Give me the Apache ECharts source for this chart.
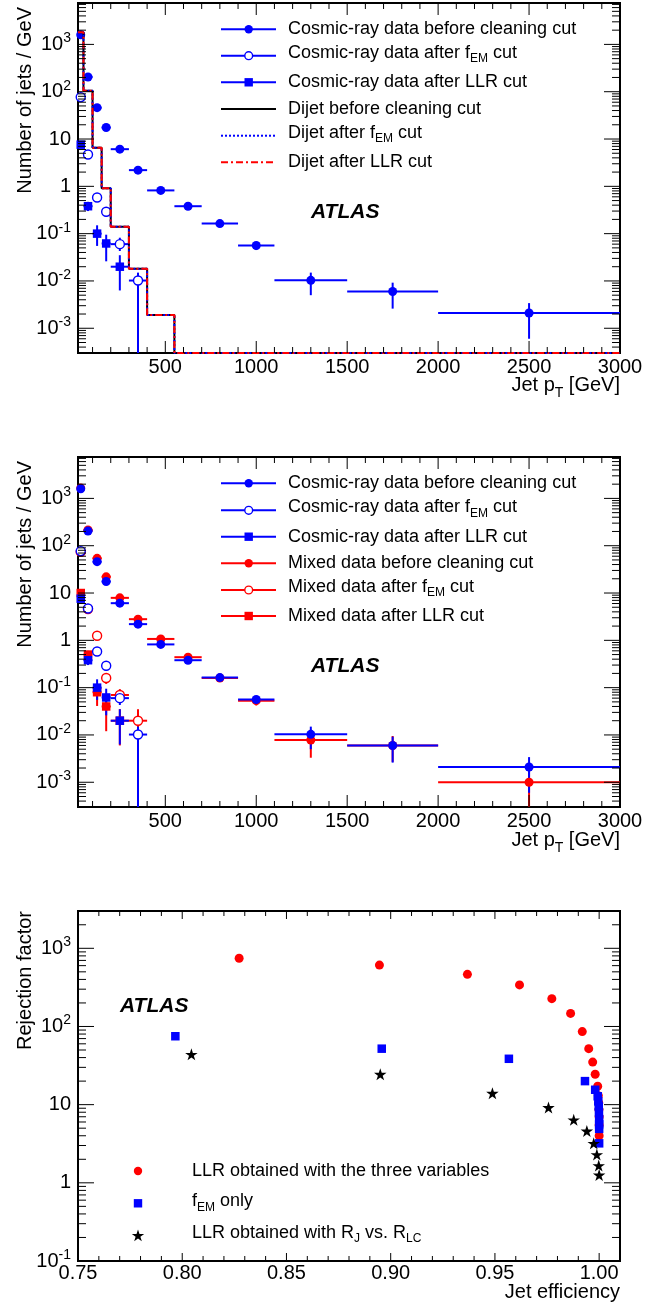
<!DOCTYPE html>
<html><head><meta charset="utf-8">
<script src="https://cdn.jsdelivr.net/npm/echarts@6/dist/echarts.min.js"></script>
<style>html,body{margin:0;padding:0;background:#fff}#c{width:671px;height:1308px}</style>
</head><body><div id="c"></div>
<script>
// ---------------- DATA ----------------
// pT bins (GeV)
const binLo     = [20, 50, 100, 150, 200, 300, 400, 550, 700, 900, 1100, 1500, 2000];
const binHi     = [50, 100, 150, 200, 300, 400, 550, 700, 900, 1100, 1500, 2000, 3000];
const binCenter = [35, 75, 125, 175, 250, 350, 475, 625, 800, 1000, 1300, 1750, 2500];

// Cosmic-ray data before cleaning cut (number of jets / GeV) + error band (low, high)
const cosmicBefore      = [1600, 205, 46, 17.5, 6.1, 2.2, 0.82, 0.38, 0.163, 0.056, 0.0103, 0.0060, 0.0021];
const cosmicBeforeLo    = [1540, 196, 42, 16.0, 5.6, 2.0, 0.74, 0.34, 0.145, 0.045, 0.0050, 0.0026, 0.0006];
const cosmicBeforeHi    = [1660, 214, 50, 19.0, 6.6, 2.4, 0.90, 0.42, 0.180, 0.066, 0.0150, 0.0092, 0.0034];
// Cosmic-ray data after fEM cut
const cosmicFem         = [77, 4.7, 0.58, 0.29, 0.060, 0.0102];
const cosmicFemLo       = [72, 4.2, 0.48, 0.23, 0.043, 0];
const cosmicFemHi       = [82, 5.2, 0.69, 0.36, 0.082, 0.0150];
// Cosmic-ray data after LLR cut
const cosmicLlr         = [7.6, 0.38, 0.100, 0.062, 0.020];
const cosmicLlrLo       = [6.8, 0.30, 0.055, 0.026, 0.0063];
const cosmicLlrHi       = [8.4, 0.47, 0.150, 0.095, 0.035];
// Dijet MC (before cleaning / after fEM / after LLR coincide)
const dijet             = [1800, 105, 6.5, 0.91, 0.14, 0.018, 0.0019, 0, 0, 0, 0, 0, 0];

// Mixed data
const mixedBefore       = [1650, 215, 54, 22, 7.9, 2.8, 1.07, 0.44, 0.160, 0.053, 0.0078, 0.0060, 0.0010];
const mixedBeforeLo     = [1590, 206, 50, 20.5, 7.3, 2.55, 0.97, 0.40, 0.142, 0.042, 0.0033, 0.0027, 0];
const mixedBeforeHi     = [1710, 224, 58, 23.5, 8.5, 3.05, 1.17, 0.48, 0.178, 0.065, 0.0130, 0.0095, 0.0022];
const mixedFem          = [74, 4.6, 1.25, 0.16, 0.070, 0.020];
const mixedFemLo        = [69, 4.1, 1.05, 0.12, 0.048, 0.012];
const mixedFemHi        = [79, 5.1, 1.45, 0.20, 0.093, 0.035];
const mixedLlr          = [10, 0.50, 0.080, 0.040, 0.020];
const mixedLlrLo        = [9, 0.40, 0.041, 0.012, 0.006];
const mixedLlrHi        = [11, 0.60, 0.120, 0.065, 0.035];

// Rejection factor vs jet efficiency
const llrEff   = [0.8273, 0.8946, 0.9368, 0.9618, 0.9773, 0.9863, 0.9919, 0.9950, 0.9969, 0.9981, 0.9993, 0.9996, 0.9998, 0.9999, 1.0, 1.0, 1.0];
const llrRej   = [745, 610, 464, 340, 227, 147, 86, 52, 35, 24.5, 17.2, 13, 10.5, 8.7, 7.0, 5.5, 4.0];
const femEff   = [0.7967, 0.8957, 0.9567, 0.9932, 0.9981, 0.9993, 0.9996, 0.9998, 0.9999, 1.0, 1.0, 1.0, 1.0];
const femRej   = [75, 52, 38.6, 20, 15.5, 12.8, 11, 9.5, 8.0, 6.5, 5.6, 4.9, 3.2];
const rjEff    = [0.8044, 0.8950, 0.9488, 0.9757, 0.9878, 0.9941, 0.9974, 0.9989, 0.9998, 1.0];
const rjRej    = [44, 24.5, 14, 9.2, 6.4, 4.6, 3.2, 2.3, 1.66, 1.26];

// Axis ranges / tick labels
const ptRange  = [20, 3000];
const nRange   = [3e-4, 7500];
const effRange = [0.75, 1.01];
const rejRange = [0.1, 3000];

// ---------------- STYLE ----------------
const FONT = '"Liberation Sans", Arial, Helvetica, sans-serif';
const BLUE = '#0000ff', RED = '#ff0000', BLACK = '#000000';
const grids = [
  {left: 78, top: 3,   width: 542, height: 350},
  {left: 78, top: 457, width: 542, height: 350},
  {left: 78, top: 911, width: 542, height: 350}
];
const STAR = 'path://M0,-10L2.245,-3.09L9.511,-3.09L3.633,1.18L5.878,8.09L0,3.82L-5.878,8.09L-3.633,1.18L-9.511,-3.09L-2.245,-3.09Z';

function logLabel(v) {
  const l = Math.log10(v), r = Math.round(l);
  if (Math.abs(l - r) > 1e-6) return '';
  if (r === 0) return '1';
  if (r === 1) return '10';
  return '10{sup|' + r + '}';
}
const yLabel = {
  formatter: logLabel, fontSize: 20, color: BLACK, fontFamily: FONT, margin: 7, lineHeight: 26,
  rich: {sup: {fontSize: 14, lineHeight: 12, verticalAlign: 'top', fontFamily: FONT, color: BLACK}}
};
function xAxisPt(gi) {
  return {type: 'value', gridIndex: gi, min: ptRange[0], max: ptRange[1],
    axisLine: {show: false}, axisTick: {show: false}, splitLine: {show: false},
    axisLabel: {fontSize: 20, color: BLACK, fontFamily: FONT, margin: 4, showMinLabel: false,
      formatter: v => (v % 500 === 0 ? String(v) : '')}};
}
function yAxisLog(gi, rng) {
  return {type: 'log', logBase: 10, gridIndex: gi, min: rng[0], max: rng[1],
    axisLine: {show: false}, axisTick: {show: false}, splitLine: {show: false}, axisLabel: yLabel};
}

function clampY(v, rng) { return Math.min(Math.max(v, rng[0]), rng[1]); }

function errSeries(gi, color, xs, xl, xh, ys, yl, yh, rng) {
  const data = xs.map((x, i) => [xl[i], xh[i], clampY(yl[i], rng), clampY(yh[i], rng), x, ys[i]]);
  return {
    type: 'custom', xAxisIndex: gi, yAxisIndex: gi, data: data, silent: true, clip: true,
    encode: {x: [0, 1, 4], y: [2, 3, 5]},
    renderItem: function (params, api) {
      const x = api.value(4), y = api.value(5);
      const p = api.coord([x, y]);
      const pl = api.coord([api.value(0), y]), ph = api.coord([api.value(1), y]);
      const vl = api.coord([x, api.value(2)]), vh = api.coord([x, api.value(3)]);
      return {type: 'group', children: [
        {type: 'line', shape: {x1: pl[0], y1: p[1], x2: ph[0], y2: p[1]}, style: {stroke: color, lineWidth: 2}},
        {type: 'line', shape: {x1: p[0], y1: vl[1], x2: p[0], y2: vh[1]}, style: {stroke: color, lineWidth: 2}}
      ]};
    }
  };
}
function markSeries(gi, symbol, color, xs, ys, size) {
  const empty = symbol === 'emptyCircle';
  return {
    type: 'scatter', xAxisIndex: gi, yAxisIndex: gi, symbol: empty ? 'circle' : symbol,
    symbolSize: size || 9, silent: true,
    itemStyle: empty ? {color: '#ffffff', borderColor: color, borderWidth: 1.4, opacity: 1} : {color: color, opacity: 1},
    data: xs.map((x, i) => [x, ys[i]])
  };
}
function histSeries(gi, color, type) {
  const pts = [];
  for (let i = 0; i < binLo.length; i++) {
    const y = clampY(dijet[i], nRange);
    pts.push([binLo[i], y], [binHi[i], y]);
  }
  return {type: 'line', xAxisIndex: gi, yAxisIndex: gi, data: pts, showSymbol: false, symbol: 'none',
    clip: false, silent: true, lineStyle: {color: color, width: 2, type: type}};
}

const series = [
  // panel 1
  histSeries(0, BLACK, 'solid'),
  histSeries(0, BLUE, [2, 2]),
  histSeries(0, RED, [7, 3, 2, 3]),
  errSeries(0, BLUE, binCenter, binLo, binHi, cosmicBefore, cosmicBeforeLo, cosmicBeforeHi, nRange),
  errSeries(0, BLUE, binCenter.slice(0, 6), binLo, binHi, cosmicFem, cosmicFemLo, cosmicFemHi, nRange),
  errSeries(0, BLUE, binCenter.slice(0, 5), binLo, binHi, cosmicLlr, cosmicLlrLo, cosmicLlrHi, nRange),
  markSeries(0, 'circle', BLUE, binCenter, cosmicBefore),
  markSeries(0, 'emptyCircle', BLUE, binCenter, cosmicFem),
  markSeries(0, 'rect', BLUE, binCenter, cosmicLlr, 8.5),
  // panel 2: mixed (red) first, cosmic (blue) on top
  errSeries(1, RED, binCenter, binLo, binHi, mixedBefore, mixedBeforeLo, mixedBeforeHi, nRange),
  errSeries(1, RED, binCenter.slice(0, 6), binLo, binHi, mixedFem, mixedFemLo, mixedFemHi, nRange),
  errSeries(1, RED, binCenter.slice(0, 5), binLo, binHi, mixedLlr, mixedLlrLo, mixedLlrHi, nRange),
  markSeries(1, 'circle', RED, binCenter, mixedBefore),
  markSeries(1, 'emptyCircle', RED, binCenter, mixedFem),
  markSeries(1, 'rect', RED, binCenter, mixedLlr, 8.5),
  errSeries(1, BLUE, binCenter, binLo, binHi, cosmicBefore, cosmicBeforeLo, cosmicBeforeHi, nRange),
  errSeries(1, BLUE, binCenter.slice(0, 6), binLo, binHi, cosmicFem, cosmicFemLo, cosmicFemHi, nRange),
  errSeries(1, BLUE, binCenter.slice(0, 5), binLo, binHi, cosmicLlr, cosmicLlrLo, cosmicLlrHi, nRange),
  markSeries(1, 'circle', BLUE, binCenter, cosmicBefore),
  markSeries(1, 'emptyCircle', BLUE, binCenter, cosmicFem),
  markSeries(1, 'rect', BLUE, binCenter, cosmicLlr, 8.5),
  // panel 3
  markSeries(2, 'circle', RED, llrEff, llrRej, 9),
  markSeries(2, 'rect', BLUE, femEff, femRej, 8.5),
  markSeries(2, STAR, BLACK, rjEff, rjRej, [12.5, 12])
];

const option = {
  animation: false,
  backgroundColor: '#ffffff',
  grid: grids.map(g => Object.assign({show: true, borderColor: BLACK, borderWidth: 2, backgroundColor: 'transparent', containLabel: false}, g)),
  xAxis: [xAxisPt(0), xAxisPt(1), {
    type: 'value', gridIndex: 2, min: effRange[0], max: effRange[1],
    axisLine: {show: false}, axisTick: {show: false}, splitLine: {show: false},
    axisLabel: {fontSize: 20, color: BLACK, fontFamily: FONT, margin: 2, showMaxLabel: false,
      formatter: v => (Math.abs(v * 20 - Math.round(v * 20)) < 1e-6 ? v.toFixed(2) : '')}
  }],
  yAxis: [yAxisLog(0, nRange), yAxisLog(1, nRange), yAxisLog(2, rejRange)],
  series: series
};

const chart = echarts.init(document.getElementById('c'), null, {renderer: 'canvas'});
chart.setOption(option);

// ---------------- GRAPHICS: legends, titles, frame ticks ----------------
const G = [];
const txtBase = {fontFamily: FONT, fill: BLACK};
const subRich = {sub: {fontSize: 12, lineHeight: 10, verticalAlign: 'bottom', fontFamily: FONT, fill: BLACK}};

function text(x, y, str, size, extra) {
  G.push(Object.assign({type: 'text', x: x, y: y, silent: true, z: 100,
    style: Object.assign({text: str, fontSize: size, lineHeight: 24, align: 'left', verticalAlign: 'middle', rich: subRich}, txtBase)}, extra || {}));
}
function legendLine(y, color, dash) {
  G.push({type: 'line', silent: true, z: 100, shape: {x1: 221, y1: y, x2: 276, y2: y},
    style: {stroke: color, lineWidth: 2, lineDash: dash || null}});
}
function legendMarker(cx, cy, kind, color) {
  if (kind === 'circle') G.push({type: 'circle', z: 101, silent: true, shape: {cx: cx, cy: cy, r: 4.2}, style: {fill: color}});
  else if (kind === 'empty') G.push({type: 'circle', z: 101, silent: true, shape: {cx: cx, cy: cy, r: 3.9}, style: {fill: '#fff', stroke: color, lineWidth: 1.4}});
  else if (kind === 'rect') G.push({type: 'rect', z: 101, silent: true, shape: {x: cx - 4.2, y: cy - 4.2, width: 8.4, height: 8.4}, style: {fill: color}});
  else if (kind === 'star') {
    const pts = [];
    for (let k = 0; k < 10; k++) {
      const r = k % 2 === 0 ? 6.5 : 2.5, a = -Math.PI / 2 + k * Math.PI / 5;
      pts.push([cx + r * Math.cos(a), cy + r * Math.sin(a)]);
    }
    G.push({type: 'polygon', z: 101, silent: true, shape: {points: pts}, style: {fill: color}});
  }
}

// panel 1 legend
const p1Rows = [29.3, 55.7, 82.3, 109, 135.7, 162.3];
const p1Leg = [
  {t: 'Cosmic-ray data before cleaning cut', c: BLUE, m: 'circle'},
  {t: 'Cosmic-ray data after f{sub|EM} cut', c: BLUE, m: 'empty', s: 1},
  {t: 'Cosmic-ray data after LLR cut', c: BLUE, m: 'rect'},
  {t: 'Dijet before cleaning cut', c: BLACK},
  {t: 'Dijet after f{sub|EM} cut', c: BLUE, d: [2, 2], s: 1},
  {t: 'Dijet after LLR cut', c: RED, d: [7, 3, 2, 3]}
];
p1Leg.forEach((e, i) => {
  legendLine(p1Rows[i], e.c, e.d);
  if (e.m) legendMarker(248.7, p1Rows[i], e.m, e.c);
  text(288, p1Rows[i] - (e.s ? 3 : 0), e.t, 18);
});
// panel 2 legend
const p2Rows = [483.3, 510.3, 536.7, 563.3, 590, 616];
const p2Leg = [
  {t: 'Cosmic-ray data before cleaning cut', c: BLUE, m: 'circle'},
  {t: 'Cosmic-ray data after f{sub|EM} cut', c: BLUE, m: 'empty', s: 1},
  {t: 'Cosmic-ray data after LLR cut', c: BLUE, m: 'rect'},
  {t: 'Mixed data before cleaning cut', c: RED, m: 'circle'},
  {t: 'Mixed data after f{sub|EM} cut', c: RED, m: 'empty', s: 1},
  {t: 'Mixed data after LLR cut', c: RED, m: 'rect'}
];
p2Leg.forEach((e, i) => {
  legendLine(p2Rows[i], e.c, e.d);
  legendMarker(248.7, p2Rows[i], e.m, e.c);
  text(288, p2Rows[i] - (e.s ? 3 : 0), e.t, 18);
});
// panel 3 legend
const p3Rows = [1171, 1203.3, 1236];
legendMarker(138, p3Rows[0], 'circle', RED);
legendMarker(138, p3Rows[1], 'rect', BLUE);
legendMarker(138, p3Rows[2], 'star', BLACK);
text(192, p3Rows[0], 'LLR obtained with the three variables', 18);
text(192, p3Rows[1] - 2, 'f{sub|EM} only', 18);
text(192, p3Rows[2] - 3, 'LLR obtained with R{sub|J} vs. R{sub|LC}', 18);

// ATLAS labels
[[311, 212.7], [311, 666.7], [120, 1006]].forEach(p => {
  G.push({type: 'text', x: p[0], y: p[1], silent: true, z: 100,
    style: {text: 'ATLAS', fontFamily: FONT, fontSize: 21, fontWeight: 'bold', fontStyle: 'italic', fill: BLACK, align: 'left', verticalAlign: 'middle'}});
});

// axis titles
function ytitle(y, str) {
  G.push({type: 'text', x: 25, y: y, rotation: Math.PI / 2, silent: true, z: 100,
    style: {text: str, fontFamily: FONT, fontSize: 20, fill: BLACK, align: 'right', verticalAlign: 'middle'}});
}
ytitle(7, 'Number of jets / GeV');
ytitle(461, 'Number of jets / GeV');
ytitle(911, 'Rejection factor');
function xtitle(y, str) {
  G.push({type: 'text', x: 620, y: y, silent: true, z: 100,
    style: {text: str, fontFamily: FONT, fontSize: 20, fill: BLACK, align: 'right', verticalAlign: 'middle', lineHeight: 30,
      rich: {sub: {fontSize: 14, lineHeight: 12, verticalAlign: 'bottom', fontFamily: FONT, fill: BLACK}}}});
}
xtitle(385, 'Jet p{sub|T} [GeV]');
xtitle(840, 'Jet p{sub|T} [GeV]');
xtitle(1292, 'Jet efficiency');

// frame ticks on all four sides (inward), positioned via the axes' own scales
function tickLine(x1, y1, x2, y2) {
  G.push({type: 'line', silent: true, z: 50, shape: {x1: x1, y1: y1, x2: x2, y2: y2}, style: {stroke: BLACK, lineWidth: 1}});
}
function logTicks(rng) {
  const out = [];
  for (let n = -5; n <= 5; n++) {
    for (let k = 1; k <= 9; k++) {
      const v = k * Math.pow(10, n);
      if (v > rng[0] * 1.0001 && v < rng[1] * 0.9999) out.push({v: v, major: k === 1});
    }
  }
  return out;
}
function frameTicks(gi, xt, yt, xMaj, xMin, yMaj, yMin) {
  const g = grids[gi], top = g.top, bot = g.top + g.height, left = g.left, right = g.left + g.width;
  xt.forEach(t => {
    const px = chart.convertToPixel({xAxisIndex: gi}, t.v);
    const L = t.major ? xMaj : xMin;
    tickLine(px, bot, px, bot - L);
    tickLine(px, top, px, top + L);
  });
  yt.forEach(t => {
    const py = chart.convertToPixel({yAxisIndex: gi}, t.v);
    const L = t.major ? yMaj : yMin;
    tickLine(left, py, left + L, py);
    tickLine(right, py, right - L, py);
  });
}
const ptTicks = [];
for (let v = 100; v < ptRange[1]; v += 100) ptTicks.push({v: v, major: v % 500 === 0});
const effTicks = [];
for (let k = 76; k <= 100; k++) effTicks.push({v: k / 100, major: k % 5 === 0});

frameTicks(0, ptTicks, logTicks(nRange), 12, 6, 16, 8);
frameTicks(1, ptTicks, logTicks(nRange), 12, 6, 16, 8);
frameTicks(2, effTicks, logTicks(rejRange), 8, 5, 16, 8);

chart.setOption({graphic: G});
</script></body></html>
